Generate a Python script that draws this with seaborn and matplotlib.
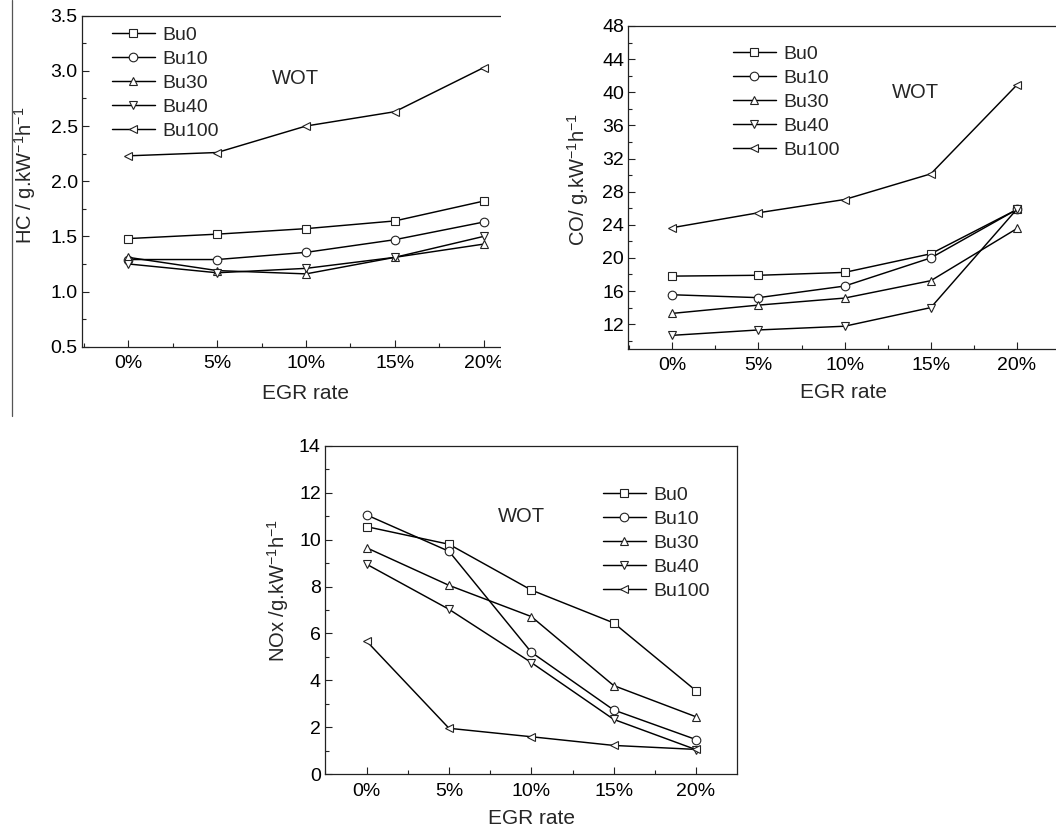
import numpy as np
import pandas as pd
import matplotlib
matplotlib.use("Agg")
import matplotlib.pyplot as plt
import seaborn as sns
from matplotlib.ticker import MultipleLocator, FixedLocator, FormatStrFormatter
from matplotlib.patches import Rectangle
from matplotlib.lines import Line2D

# ---------------- data ----------------
egr = [0, 5, 10, 15, 20]
egr_labels = ["0%", "5%", "10%", "15%", "20%"]
fuels = ["Bu0", "Bu10", "Bu30", "Bu40", "Bu100"]
fuel_markers = ["s", "o", "^", "v", "<"]

hc_bu0 = [1.48, 1.52, 1.57, 1.64, 1.82]
hc_bu10 = [1.29, 1.29, 1.355, 1.47, 1.63]
hc_bu30 = [1.31, 1.19, 1.16, 1.31, 1.43]
hc_bu40 = [1.25, 1.17, 1.21, 1.31, 1.50]
hc_bu100 = [2.23, 2.26, 2.50, 2.63, 3.03]

co_bu0 = [17.8, 17.9, 18.25, 20.5, 25.85]
co_bu10 = [15.55, 15.2, 16.6, 20.0, 25.85]
co_bu30 = [13.3, 14.3, 15.15, 17.25, 23.55]
co_bu40 = [10.65, 11.3, 11.75, 14.0, 25.9]
co_bu100 = [23.65, 25.45, 27.05, 30.15, 40.9]

nox_bu0 = [10.55, 9.8, 7.85, 6.45, 3.56]
nox_bu10 = [11.05, 9.5, 5.2, 2.74, 1.48]
nox_bu30 = [9.65, 8.05, 6.72, 3.78, 2.45]
nox_bu40 = [8.95, 7.03, 4.76, 2.34, 1.05]
nox_bu100 = [5.67, 1.96, 1.60, 1.23, 1.06]

W, H = 1056, 831

sns.set_style("ticks")
plt.rcParams["font.family"] = ["Liberation Sans", "DejaVu Sans"]
plt.rcParams["mathtext.fontset"] = "custom"
plt.rcParams["mathtext.rm"] = "Liberation Sans"
plt.rcParams["mathtext.it"] = "Liberation Sans:italic"
plt.rcParams["mathtext.default"] = "regular"

fig = plt.figure(figsize=(W / 100, H / 100), dpi=100)
fig.patch.set_facecolor("white")


def px_axes(l, t, r, b):
    return fig.add_axes([l / W, 1 - b / H, (r - l) / W, (b - t) / H])


def draw_panel(ax, series, xlim, ylim, yminor, yticks, ylabel,
               leg_xy, wot_xy, xlabel_xy, ylabel_xy):
    for name, mk, vals in zip(fuels, fuel_markers, series):
        sns.lineplot(x=egr, y=vals, ax=ax, color="black", linewidth=1.05,
                     marker=mk, markersize=6.2, markerfacecolor="white",
                     markeredgecolor="#222222", markeredgewidth=0.8,
                     label=name)
    ax.set_xlim(*xlim)
    ax.set_ylim(*ylim)
    ax.xaxis.set_major_locator(FixedLocator(egr))
    ax.set_xticklabels(egr_labels)
    ax.xaxis.set_minor_locator(MultipleLocator(2.5))
    ax.yaxis.set_major_locator(FixedLocator(yticks))
    ax.yaxis.set_minor_locator(MultipleLocator(yminor))
    ax.tick_params(which="both", direction="in", top=False, right=False,
                   width=0.8, colors="#222222", labelcolor="black",
                   labelsize=14)
    ax.tick_params(which="major", length=5)
    ax.tick_params(axis="x", which="major", pad=6)
    ax.tick_params(axis="y", which="major", pad=3)
    ax.tick_params(which="minor", length=3)
    for s in ax.spines.values():
        s.set_linewidth(0.9)
        s.set_color("#222222")
    ax.set_xlabel("EGR rate", fontsize=15)
    ax.set_ylabel(ylabel, fontsize=14.5)
    ax.xaxis.set_label_coords(xlabel_xy[0] / W, 1 - xlabel_xy[1] / H,
                              transform=fig.transFigure)
    ax.yaxis.set_label_coords(ylabel_xy[0] / W, 1 - ylabel_xy[1] / H,
                              transform=fig.transFigure)
    ax.xaxis.label.set_va("center")
    ax.yaxis.label.set_va("center")
    ax.legend(loc="upper left", bbox_to_anchor=(leg_xy[0] / W, 1 - leg_xy[1] / H),
              bbox_transform=fig.transFigure, frameon=False, borderpad=0,
              borderaxespad=0, handlelength=2.2, handletextpad=0.4,
              labelspacing=0.33, fontsize=14, numpoints=1)
    fig.text(wot_xy[0] / W, 1 - wot_xy[1] / H, "WOT", fontsize=14.5,
             ha="center", va="center")


# top-left: HC
ax1 = px_axes(82, 15.7, 530, 346.7)
draw_panel(ax1, [hc_bu0, hc_bu10, hc_bu30, hc_bu40, hc_bu100],
           xlim=(-2.6, 22.6), ylim=(0.5, 3.5), yminor=0.25,
           yticks=[0.5, 1.0, 1.5, 2.0, 2.5, 3.0, 3.5],
           ylabel="HC / g.kW$^{-1}$h$^{-1}$",
           leg_xy=(112, 26), wot_xy=(295, 78),
           xlabel_xy=(306, 393), ylabel_xy=(25, 175))
ax1.yaxis.set_major_formatter(FormatStrFormatter("%.1f"))

# top-right: CO
ax2 = px_axes(628.3, 26, 1061, 349)
draw_panel(ax2, [co_bu0, co_bu10, co_bu30, co_bu40, co_bu100],
           xlim=(-2.55, 22.55), ylim=(9, 48), yminor=2,
           yticks=[12, 16, 20, 24, 28, 32, 36, 40, 44, 48],
           ylabel="CO/ g.kW$^{-1}$h$^{-1}$",
           leg_xy=(733, 45), wot_xy=(915, 92),
           xlabel_xy=(844, 392), ylabel_xy=(578, 180))

# bottom: NOx
ax3 = px_axes(325, 445.7, 736.7, 774.3)
draw_panel(ax3, [nox_bu0, nox_bu10, nox_bu30, nox_bu40, nox_bu100],
           xlim=(-2.53, 22.47), ylim=(0, 14), yminor=1,
           yticks=[0, 2, 4, 6, 8, 10, 12, 14],
           ylabel="NOx /g.kW$^{-1}$h$^{-1}$",
           leg_xy=(603, 486), wot_xy=(521, 517),
           xlabel_xy=(532, 819), ylabel_xy=(278, 591))

# crop edge of the top-left panel as in the source composite
fig.add_artist(Rectangle((501 / W, 1 - 420 / H), 50 / W, 420 / H,
                         transform=fig.transFigure, facecolor="white",
                         edgecolor="none", zorder=10))
fig.add_artist(Line2D([12 / W, 12 / W], [1.0, 1 - 416 / H],
                      transform=fig.transFigure, color="#555555", lw=0.9))

fig.savefig("out.png", dpi=100, facecolor="white")
